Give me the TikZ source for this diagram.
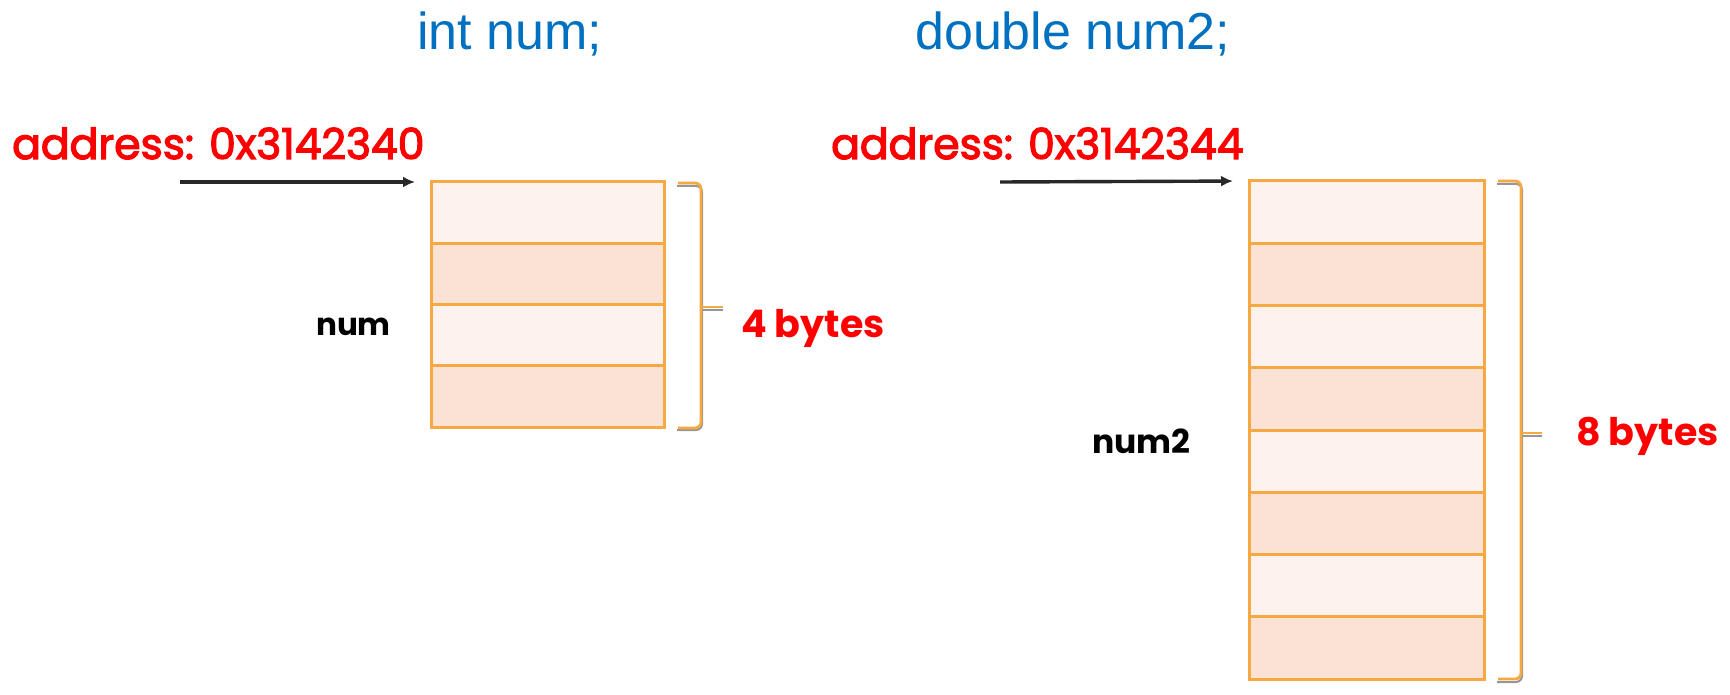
\documentclass[tikz,border=0pt]{standalone}
\usepackage{fontspec}
\setmainfont{Liberation Sans}
\newfontfamily\geo{Poppins}[FakeBold=3]
\newfontfamily\geob{Poppins}
\usetikzlibrary{arrows.meta}
\definecolor{titleblue}{RGB}{0,112,192}
\definecolor{addrred}{RGB}{255,0,0}
\definecolor{boxorange}{RGB}{246,168,66}
\definecolor{celllight}{RGB}{253,242,237}
\definecolor{celldark}{RGB}{252,226,212}
\definecolor{arrowgray}{RGB}{40,40,40}
\definecolor{shadowgray}{RGB}{150,150,150}
\begin{document}
\begin{tikzpicture}[x=1pt,y=-1pt,
  title/.style={text=titleblue,font=\fontsize{52}{52}\selectfont,inner sep=0,anchor=base west},
  addr/.style={text=addrred,font=\geo\fontsize{42.5}{42.5}\selectfont,inner sep=0,anchor=base west},
  bytes/.style={text=addrred,font=\geob\bfseries\fontsize{38}{38}\selectfont,inner sep=0,anchor=base west},
  varname/.style={text=black,font=\geob\bfseries\fontsize{#1}{#1}\selectfont,inner sep=0,anchor=base west},
  cellA/.style={draw=boxorange,line width=3pt,fill=celllight,minimum width=233pt,minimum height=61.25pt,inner sep=0,outer sep=0,anchor=north west},
  cellB/.style={draw=boxorange,line width=3pt,fill=celllight,minimum width=235pt,minimum height=62.25pt,inner sep=0,outer sep=0,anchor=north west},
  ptr/.style={draw=arrowgray,line width=3.4pt,-{Latex[length=12pt,width=11pt]},shorten >=16pt},
  bracecol/.style={draw=boxorange,line width=2.8pt,rounded corners=6pt},
  braceshadow/.style={draw=shadowgray,line width=2pt,rounded corners=6pt}
]
\useasboundingbox (0,0) rectangle (1730,695);

% titles
\node[title] (t1) at (417,50) {int num;};
\node[title] (t2) at (915,50) {double num2;};

% addresses
\node[addr] (ad1) at (12,159) {address: 0x3142340};
\node[addr] (ad2) at (831,159) {address: 0x3142344};

% box 1
\node[cellA] (a1) at (431,182) {};
\node[cellA,fill=celldark] (a2) at (a1.south west) {};
\node[cellA] (a3) at (a2.south west) {};
\node[cellA,fill=celldark] (a4) at (a3.south west) {};

% box 2
\node[cellB] (b1) at (1249,181) {};
\node[cellB,fill=celldark] (b2) at (b1.south west) {};
\node[cellB] (b3) at (b2.south west) {};
\node[cellB,fill=celldark] (b4) at (b3.south west) {};
\node[cellB] (b5) at (b4.south west) {};
\node[cellB,fill=celldark] (b6) at (b5.south west) {};
\node[cellB] (b7) at (b6.south west) {};
\node[cellB,fill=celldark] (b8) at (b7.south west) {};

% pointers
\coordinate (s1) at (180,182);
\coordinate (s2) at (1000,182);
\draw[ptr] (s1) -- (a1.north west);
\draw[ptr] (s2) -- (b1.north west);

% brace 1
\draw[braceshadow] (677,186) -- (702,186) -- (702,430) -- (677,430);
\draw[braceshadow] (702,310) -- (723,310);
\draw[bracecol] (678,183) -- (701,183) -- (701,428) -- (678,428);
\draw[bracecol] (701,307) -- (723,307);

% brace 2
\draw[braceshadow] (1497,184) -- (1522,184) -- (1522,682) -- (1497,682);
\draw[braceshadow] (1522,436) -- (1542,436);
\draw[bracecol] (1498,181) -- (1521,181) -- (1521,679) -- (1498,679);
\draw[bracecol] (1521,433) -- (1542,433);

% labels
\node[bytes] (by1) at (741,337) {4 bytes};
\node[bytes] (by2) at (1576,445) {8 bytes};
\node[varname=31] (n1) at (316,335) {num};
\node[varname=33] (n2) at (1092,453) {num2};
\end{tikzpicture}
\end{document}
